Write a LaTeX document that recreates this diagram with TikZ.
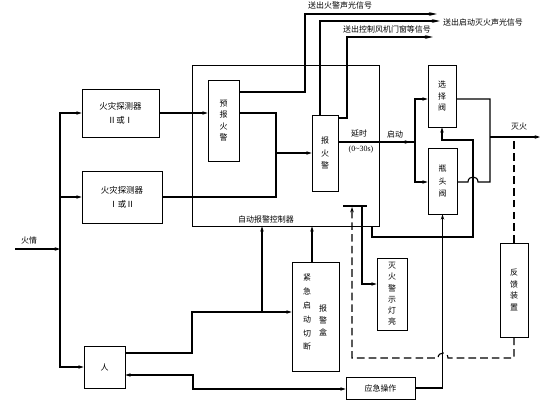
\documentclass[tikz,border=0pt]{standalone}
\usepackage{fontspec}
\setmainfont{Noto Sans CJK SC}
\newfontfamily\latinserif{Liberation Serif}
\usetikzlibrary{arrows.meta}
\begin{document}
\begin{tikzpicture}[x=0.03cm,y=-0.03cm,
  box/.style 2 args={draw, line width=0.65pt, minimum width=#1*0.3mm, minimum height=#2*0.3mm, inner sep=0pt, font=\fontsize{6.8}{10}\selectfont, align=center},
  ln/.style={line width=0.95pt},
  arr/.style={ln, -{Stealth[length=4.5pt,width=3pt]}},
  bigarr/.style={ln, -{Stealth[length=7pt,width=3.2pt]}},
  dsh/.style={ln, dash pattern=on 6.5pt off 3.5pt},
  lbl/.style={font=\fontsize{6.8}{8}\selectfont, inner sep=0pt},
  vt/.style={font=\fontsize{6.8}{#1}\selectfont, align=center, inner sep=0pt},
]
\useasboundingbox (0,0) rectangle (560,417);

% boxes
\node[box={77}{48}, font=\fontsize{7.2}{12}\selectfont] (det1) at (120.5,113) {火灾探测器\\Ⅱ或Ⅰ};
\node[box={80}{52}, font=\fontsize{7.2}{12}\selectfont] (det2) at (122,197) {火灾探测器\\Ⅰ或Ⅱ};
\node[box={41}{42}] (ren) at (104.5,367) {人};
\node[box={187}{161}] (ctrl) at (285.5,145.5) {};
\node[lbl] (tctrl) at (266,219) {自动报警控制器};
\node[box={31}{81}, font=\fontsize{6.8}{9.8}\selectfont] (yb) at (223.5,120.5) {预\\报\\火\\警};
\node[box={26}{76}, font=\fontsize{6.8}{10.7}\selectfont] (bj) at (325,153) {报\\火\\警};
\node[box={28}{62}, font=\fontsize{6.8}{9.6}\selectfont] (xz) at (442,96) {选\\择\\阀};
\node[box={29}{66}, font=\fontsize{6.8}{10.5}\selectfont] (pt) at (442.5,181) {瓶\\头\\阀};
\node[box={47}{109}] (jj) at (315.5,316.5) {};
\node[vt=11.8] (jjA) at (307,312.5) {紧\\急\\启\\动\\切\\断};
\node[vt=10.2] (jjB) at (323,320) {报\\警\\盒};
\node[box={30}{72}, font=\fontsize{6.8}{9.6}\selectfont] (mh) at (392,294) {灭\\火\\警\\示\\灯\\亮};
\node[box={28}{94}, font=\fontsize{6.8}{10}\selectfont] (fk) at (514,290) {反\\馈\\装\\置};
\node[box={69}{22}] (yj) at (380.5,388) {应急操作};

% input and bus
\coordinate (in) at (15,249);
\coordinate (bus) at (60,249);
\draw[arr] (in) -- (bus);
\node[lbl] (tin) at (29,240) {火情};
\draw[arr] (bus) |- (det1.west);
\draw[arr] (bus) |- (det2.west);
\draw[arr] (bus) |- (ren.west);

% detectors to alarms
\draw[arr] (det1.east) -- (det1.east -| yb.west);
\draw[arr] (yb.east |- det1.east) -- (276,113) -- (276,153) -- (bj.west);
\draw[ln] (det2.east) -| (276,153);

% output signals
\coordinate (s1) at (437,14);
\draw[bigarr] (yb.east |- 0,92) -| (305,14) -- (s1);
\node[lbl, anchor=west] (t1) at (308,5.5) {送出火警声光信号};
\coordinate (s2) at (440,21);
\draw[bigarr] (bj.north -| 320,0) -- (320,21) -- (s2);
\node[lbl, anchor=west] (t2) at (443,22) {送出启动灭火声光信号};
\coordinate (s3) at (433,37);
\draw[bigarr] (bj.east |- 0,118) -| (347,37) -- (s3);
\node[lbl, anchor=west] (t3) at (343,29) {送出控制风机门窗等信号};

% delay / start
\coordinate (jn) at (415,142);
\draw[ln] (bj.east |- 0,142) -- (jn);
\draw[arr] (bj.east |- 0,142) -- (410,142);
\node[lbl] (tys) at (359,134) {延时};
\node[lbl] (tys2) at (361,150) {\latinserif (0\textasciitilde30s)};
\node[lbl] (tqd) at (395,134) {启动};
\draw[arr] (jn) |- (xz.west |- 0,99);
\draw[arr] (jn) |- (pt.west |- 0,182);

% valves to extinguishing
\draw[ln] (xz.east |- 0,99) -- (490,99) -- (490,182) -- (478,182) .. controls (478,175.3) and (468,175.3) .. (468,182) -- (pt.east |- 0,182);
\coordinate (out) at (540,137);
\draw[arr] (490,137) -- (out);
\node[lbl] (tmh) at (519,127) {灭火};
\draw[dsh] (fk.north) -- (fk.north |- 0,137);

% controller to selector valve
\draw[arr] (ctrl.south -| 372,0) -- (372,237) -- (473,237) -- (473,140) -- (442,140) -- (xz.south);

% emergency operation to bottle valve
\draw[arr] (yj.east) -| (pt.south);

% person lines
\draw[arr] (ren.east |- 0,353) -- (192,353) -- (192,312) -- (jj.west |- 0,312);
\draw[arr] (262,312) -- (ctrl.south -| 262,0);
\draw[ln, {Stealth[length=4.5pt,width=3pt]}-{Stealth[length=4.5pt,width=3pt]}] (ren.east |- 0,375) -- (193,375) -- (193,389) -- (yj.west |- 0,389);
\draw[arr] (jj.north -| 312,0) -- (ctrl.south -| 312,0);

% terminal bar
\coordinate (tbl) at (343,206);
\coordinate (tbr) at (367,206);
\draw[ln] (tbl) -- (tbr);
\draw[arr] (362,206) -- (362,284) -- (mh.west |- 0,284);
\draw[dsh, -{Stealth[length=4.5pt,width=3pt]}] (fk.south) -- (fk.south |- 0,358) -- (448,358) .. controls (448,351.3) and (438,351.3) .. (438,358) -- (352,358) -- (352,207);
\end{tikzpicture}
\end{document}
